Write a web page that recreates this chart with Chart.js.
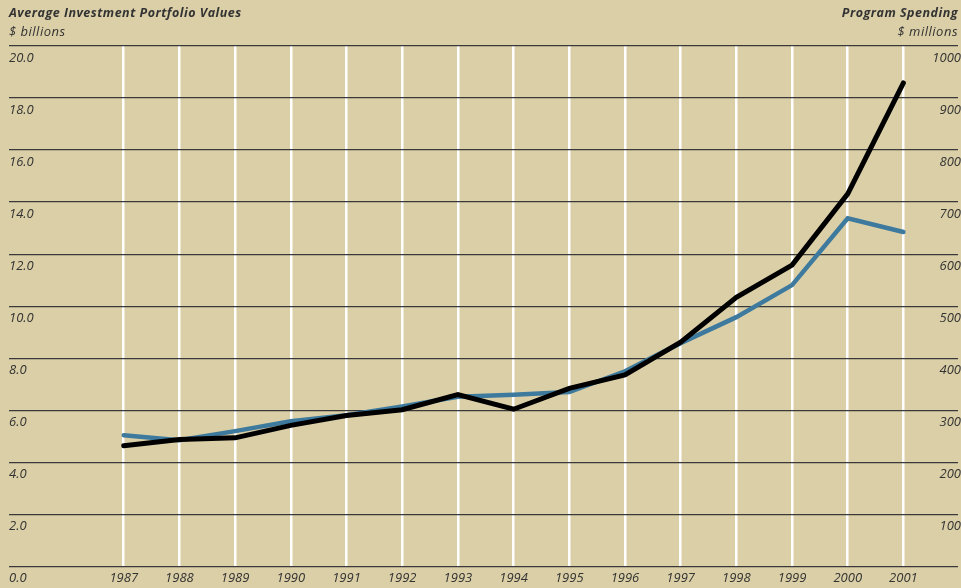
<!DOCTYPE html>
<html>
<head>
<meta charset="utf-8">
<script src="https://cdn.jsdelivr.net/npm/chart.js@4"></script>
<style>
  html, body { margin: 0; padding: 0; background: #dbcfa7; }
  #wrap { position: relative; width: 961px; height: 588px; overflow: hidden; }
  canvas { position: absolute; left: 0; top: 0; }
  .t { position: absolute; font-family: "Open Sans", sans-serif; font-style: italic; color: #333; white-space: nowrap; letter-spacing: 0.5px; }
  .bold { font-weight: 700; font-size: 12.5px; }
  .sub { font-size: 13px; }
</style>
</head>
<body>
<div id="wrap">
  <canvas id="c" width="961" height="588"></canvas>
  <div class="t bold" style="left:9px; top:4px;">Average Investment Portfolio Values</div>
  <div class="t sub" style="left:9px; top:22px;">$ billions</div>
  <div class="t bold" style="right:3px; top:4px; text-align:right;">Program Spending</div>
  <div class="t sub" style="right:3px; top:22px; text-align:right;">$ millions</div>
</div>
<script>
const years = [1987, 1988, 1989, 1990, 1991, 1992, 1993, 1994, 1995, 1996, 1997, 1998, 1999, 2000, 2001];
const portfolioBillions = [5.04, 4.85, 5.2, 5.58, 5.81, 6.15, 6.52, 6.6, 6.7, 7.5, 8.58, 9.58, 10.81, 13.38, 12.85];
const spendingMillions = [232, 244, 247, 271, 290, 301, 330, 302, 342, 368, 431, 517, 579, 716, 929];
const leftTicks = [0, 2, 4, 6, 8, 10, 12, 14, 16, 18, 20];
const rightTicks = [0, 100, 200, 300, 400, 500, 600, 700, 800, 900, 1000];

const tickFont = { family: "Open Sans", style: "italic", size: 13 };
const textColor = "#333";

new Chart(document.getElementById("c"), {
  type: "line",
  data: {
    datasets: [
      {
        label: "Program Spending",
        data: years.map((y, i) => ({ x: y, y: spendingMillions[i] })),
        yAxisID: "y1",
        borderColor: "#000",
        borderWidth: 5,
        pointRadius: 0,
        borderCapStyle: "round",
        borderJoinStyle: "miter",
        tension: 0
      },
      {
        label: "Average Investment Portfolio Values",
        data: years.map((y, i) => ({ x: y, y: portfolioBillions[i] })),
        yAxisID: "y",
        borderColor: "#3e7a9e",
        borderWidth: 4.5,
        pointRadius: 0,
        borderCapStyle: "round",
        borderJoinStyle: "miter",
        tension: 0
      }
    ]
  },
  options: {
    responsive: false,
    animation: false,
    events: [],
    layout: { padding: { left: 9, right: -3, top: 46, bottom: -2 } },
    plugins: { legend: { display: false }, tooltip: { enabled: false } },
    scales: {
      x: {
        type: "linear",
        min: 1984.94,
        max: 2001.98,
        afterBuildTicks: (s) => { s.ticks = years.map(v => ({ value: v })); },
        grid: { color: "#ffffff", lineWidth: 2.5, drawTicks: false },
        border: { display: false },
        ticks: {
          font: tickFont, color: textColor, padding: 4,
          maxRotation: 0, autoSkip: false,
          callback: (v) => String(v)
        }
      },
      y: {
        position: "left",
        min: 0, max: 20,
        afterBuildTicks: (s) => { s.ticks = leftTicks.map(v => ({ value: v })); },
        grid: { color: "#3a3a3a", lineWidth: 1.3, drawTicks: false, z: 0 },
        border: { display: false },
        ticks: {
          mirror: true, padding: 0, labelOffset: 12,
          font: tickFont, color: textColor,
          callback: (v) => Number(v).toFixed(1)
        }
      },
      y1: {
        position: "right",
        min: 0, max: 1000,
        afterBuildTicks: (s) => { s.ticks = rightTicks.map(v => ({ value: v })); },
        grid: { display: false, drawTicks: false },
        border: { display: false },
        ticks: {
          mirror: true, padding: 3, labelOffset: 12,
          font: tickFont, color: textColor,
          callback: (v) => (v === 0 ? "" : String(v))
        }
      }
    }
  }
});
</script>
</body>
</html>
